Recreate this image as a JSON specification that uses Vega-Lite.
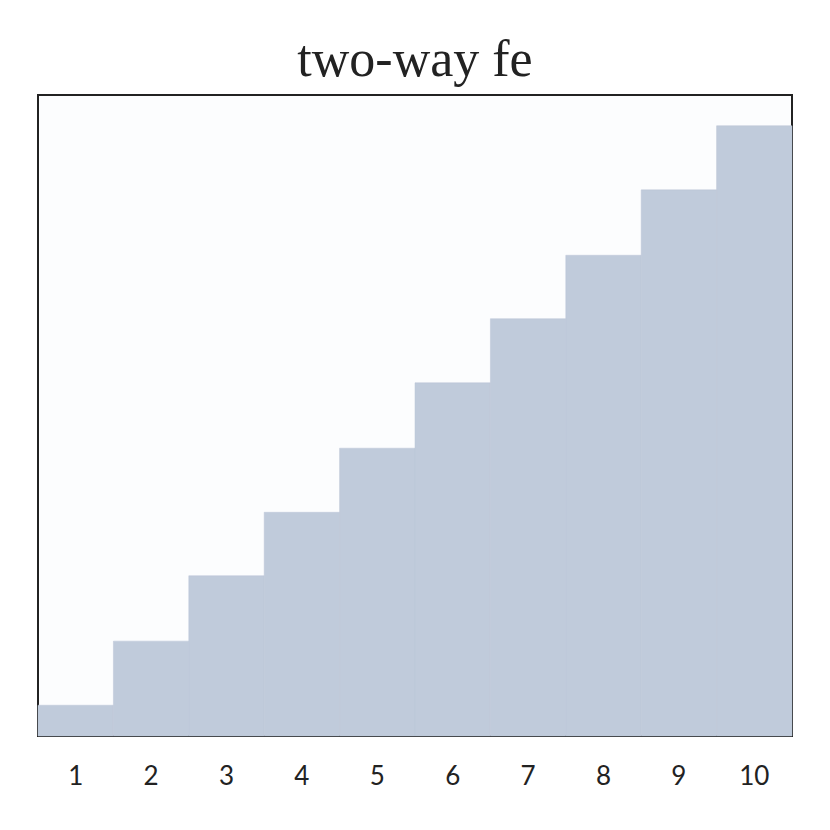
{
  "$schema": "https://vega.github.io/schema/vega-lite/v6.json",
  "autosize": "none",
  "padding": {"left": 38, "top": 95, "right": 38, "bottom": 94},
  "width": 754,
  "height": 641,
  "background": "white",
  "title": {
    "text": "two-way fe",
    "font": "Liberation Serif",
    "fontSize": 52,
    "fontWeight": "normal",
    "color": "#222222",
    "anchor": "middle",
    "baseline": "bottom",
    "offset": 4,
    "dy": 48
  },
  "config": {
    "view": {"fill": "#fcfdfe", "stroke": "#222222", "strokeWidth": 2}
  },
  "data": {
    "values": [
      {"x": 1, "y": 0.48},
      {"x": 2, "y": 1.48},
      {"x": 3, "y": 2.5},
      {"x": 4, "y": 3.49},
      {"x": 5, "y": 4.49},
      {"x": 6, "y": 5.51},
      {"x": 7, "y": 6.51},
      {"x": 8, "y": 7.5},
      {"x": 9, "y": 8.52},
      {"x": 10, "y": 9.52}
    ]
  },
  "mark": {"type": "bar", "color": "#c0cbdb", "stroke": "#bac5d6", "strokeWidth": 0.5},
  "encoding": {
    "x": {
      "field": "x",
      "type": "ordinal",
      "scale": {"paddingInner": 0, "paddingOuter": 0},
      "axis": {
        "title": null,
        "labelAngle": 0,
        "ticks": false,
        "domain": false,
        "labelFont": "Lato",
        "labelFontSize": 26,
        "labelColor": "#222222",
        "labelPadding": 27
      }
    },
    "y": {
      "field": "y",
      "type": "quantitative",
      "scale": {"domain": [0, 10], "nice": false},
      "axis": null
    }
  }
}
